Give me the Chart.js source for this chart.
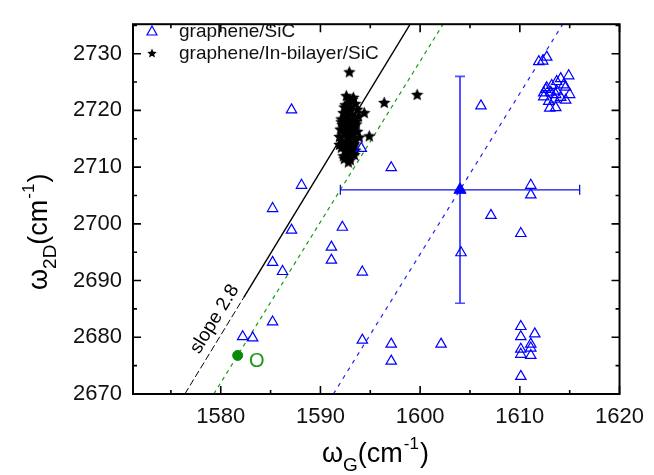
<!DOCTYPE html>
<html lang="en">
<head>
<meta charset="UTF-8">
<title>G vs 2D Raman peak positions</title>
<style>
  body { margin: 0; background: #fff; }
  #wrap { width: 654px; height: 475px; }
</style>
</head>
<body>
<div id="wrap"><canvas id="ramanChart" width="654" height="475"></canvas></div>
<script src="https://cdn.jsdelivr.net/npm/chart.js"></script>
<script>
// graphene/SiC, open triangles (omega_G, omega_2D)
const sicG = [1587.1, 1588.1, 1585.2, 1587.1, 1585.2, 1586.2, 1585.2, 1582.2, 1583.2,
  1594.1, 1597.1, 1592.2, 1591.1, 1591.1, 1594.2, 1604.1, 1594.2, 1597.1, 1597.1, 1602.1,
  1606.1, 1611.1, 1611.1, 1607.1, 1610.1,
  1610.1, 1610.1, 1611.5, 1611.1, 1611.1, 1610.1, 1610.1, 1611.1, 1610.1,
  1611.9, 1612.3, 1612.7,
  1614.9, 1614.1, 1613.7, 1614.4, 1613.2, 1612.7, 1612.6, 1613.7, 1614.6, 1612.4,
  1613.1, 1613.6, 1615.0, 1612.4, 1614.1, 1614.6, 1612.9, 1613.5, 1613.6, 1613.0];
const sic2D = [2720.1, 2706.8, 2702.7, 2698.9, 2693.2, 2691.6, 2682.7, 2680.1, 2679.9,
  2713.3, 2709.9, 2699.4, 2695.9, 2693.6, 2691.5, 2694.9, 2679.5, 2678.8, 2675.8, 2678.8,
  2720.8, 2706.8, 2705.1, 2701.5, 2698.3,
  2681.9, 2680.1, 2680.6, 2678.8, 2678.1, 2677.9, 2677.0, 2676.8, 2673.1,
  2728.6, 2728.7, 2729.4,
  2726.1, 2725.6, 2725.1, 2724.5, 2724.4, 2724.0, 2723.7, 2723.4, 2724.1, 2723.1,
  2723.2, 2722.8, 2722.8, 2722.4, 2722.3, 2721.8, 2721.6, 2722.0, 2720.5, 2720.4];

// graphene/In-bilayer/SiC, stars
const inG = [1592.9, 1596.4, 1599.7, 1594.9, 1594.4, 1592.1,
  1592.6, 1593.3, 1592.9, 1593.5, 1592.5, 1593.0, 1593.7, 1592.7, 1592.3, 1593.1,
  1593.8, 1592.6, 1593.3, 1592.1, 1592.9, 1593.6, 1592.5, 1593.1, 1592.0, 1592.8,
  1593.7, 1592.4, 1593.2, 1591.9, 1592.7, 1593.5, 1592.2, 1593.0, 1592.6, 1593.3,
  1592.1, 1592.9, 1592.5, 1593.1, 1592.7, 1592.4, 1593.0, 1592.8, 1593.9, 1591.9,
  1593.5, 1592.9, 1592.4, 1593.2, 1592.7, 1593.0, 1592.6, 1593.3, 1592.8, 1593.4,
  1592.3, 1593.6, 1592.2, 1593.4];
const in2D = [2726.8, 2721.4, 2722.8, 2715.5, 2719.6, 2718.5,
  2722.6, 2722.3, 2721.8, 2721.2, 2721.0, 2720.6, 2720.2, 2720.0, 2719.6, 2719.4,
  2719.0, 2718.8, 2718.5, 2718.0, 2717.9, 2717.6, 2717.3, 2717.0, 2716.7, 2716.5,
  2716.3, 2716.0, 2715.8, 2715.4, 2715.2, 2714.9, 2714.6, 2714.4, 2714.0, 2713.7,
  2713.5, 2713.2, 2712.8, 2712.5, 2712.0, 2711.5, 2711.3, 2710.9, 2715.3, 2714.0,
  2713.0, 2719.9, 2720.6, 2721.9, 2719.2, 2716.0, 2716.9, 2716.9, 2718.3, 2714.1,
  2712.0, 2718.1, 2717.5, 2712.2];

// mean of graphene/SiC with spread
const meanG = 1604, mean2D = 2706, errG = 12, err2D = 20;

// reference point O (green dot)
const pointOG = [1581.7], pointO2D = [2676.8];

// slope-2.8 lines: [G, 2D] end points
const blackSolid = [[1582.3, 2687.0], [1599.0, 2735.2]];
const blackDash = [[1576.4, 2670.0], [1582.3, 2687.0]];
const greenLine = [[1579.3, 2670.0], [1602.3, 2735.2]];
const blueLine = [[1591.3, 2670.0], [1614.3, 2735.2]];

const xTicks = [1575, 1580, 1585, 1590, 1595, 1600, 1605, 1610, 1615, 1620];
const yTicks = [2670, 2675, 2680, 2685, 2690, 2695, 2700, 2705, 2710, 2715, 2720, 2725, 2730, 2735];

const FONT = "'Liberation Sans', Arial, sans-serif";

function pts(xs, ys) {
    return xs.map((v, i) => ({x: v, y: ys[i]}));
}
function seg(p) {
    return p.map(q => ({x: q[0], y: q[1]}));
}

function makeStar(size) {
    const c = document.createElement('canvas');
    c.width = c.height = size;
    const g = c.getContext('2d');
    const R = size / 2, r = R * 0.46;
    g.beginPath();
    for (let i = 0; i < 10; i++) {
        const a = -Math.PI / 2 + i * Math.PI / 5;
        const rr = i % 2 ? r : R;
        g.lineTo(R + rr * Math.cos(a), R + 0.5 + rr * Math.sin(a));
    }
    g.closePath();
    g.fillStyle = '#000';
    g.fill();
    return c;
}
const starImg = makeStar(13);
const starSmall = makeStar(10);

// frame box with inward ticks on all four sides
const frameTicks = {
    id: 'frameTicks',
    afterDatasetsDraw(chart) {
        const {ctx, chartArea: a, scales: {x, y}} = chart;
        ctx.save();
        ctx.strokeStyle = '#000';
        ctx.lineWidth = 1.6;
        ctx.beginPath();
        xTicks.forEach(v => {
            const px = x.getPixelForValue(v);
            const len = v % 10 === 0 ? 8 : 4;
            ctx.moveTo(px, a.bottom); ctx.lineTo(px, a.bottom - len);
            ctx.moveTo(px, a.top); ctx.lineTo(px, a.top + len);
        });
        yTicks.forEach(v => {
            const py = y.getPixelForValue(v);
            const len = v % 10 === 0 ? 8 : 4;
            ctx.moveTo(a.left, py); ctx.lineTo(a.left + len, py);
            ctx.moveTo(a.right, py); ctx.lineTo(a.right - len, py);
        });
        ctx.stroke();
        ctx.lineWidth = 2;
        ctx.strokeRect(a.left, a.top, a.right - a.left, a.bottom - a.top);
        ctx.restore();
    }
};

// legend, axis titles and notes
const labels = {
    id: 'labels',
    afterDraw(chart) {
        const {ctx, chartArea: a, scales: {x, y}} = chart;
        ctx.save();

        // legend inside plot
        ctx.strokeStyle = '#0000ff';
        ctx.lineWidth = 1.2;
        ctx.beginPath();
        ctx.moveTo(152, 26); ctx.lineTo(157, 35); ctx.lineTo(147, 35); ctx.closePath();
        ctx.stroke();
        ctx.drawImage(starSmall, 147, 48);
        ctx.fillStyle = '#111';
        ctx.font = '19px ' + FONT;
        ctx.textBaseline = 'middle';
        ctx.fillText(chart.data.datasets[0].label, 179, 32);
        ctx.fillText(chart.data.datasets[1].label, 179, 54);

        // slope note along black line
        const x0 = x.getPixelForValue(blackDash[0][0]), y0 = y.getPixelForValue(blackDash[0][1]);
        const x1 = x.getPixelForValue(blackSolid[1][0]), y1 = y.getPixelForValue(blackSolid[1][1]);
        const ang = Math.atan2(y1 - y0, x1 - x0);
        const cx = x.getPixelForValue(1579.4), cy = y.getPixelForValue(2683.2);
        ctx.save();
        ctx.translate(cx, cy);
        ctx.rotate(ang);
        ctx.font = '19px ' + FONT;
        ctx.textAlign = 'center';
        ctx.textBaseline = 'middle';
        ctx.fillStyle = '#000';
        ctx.fillText('slope 2.8', 0, 0);
        ctx.restore();

        // O label
        ctx.fillStyle = '#1a9a1a';
        ctx.font = '20px ' + FONT;
        ctx.textAlign = 'center';
        ctx.fillText('O', x.getPixelForValue(pointOG[0]) + 19, y.getPixelForValue(pointO2D[0]) + 6);

        // x axis title
        ctx.fillStyle = '#000';
        ctx.textAlign = 'left';
        ctx.textBaseline = 'alphabetic';
        let px = 322;
        const base = 462;
        ctx.font = '27px ' + FONT;
        ctx.fillText('\u03c9', px, base); px += ctx.measureText('\u03c9').width;
        ctx.font = '19px ' + FONT;
        ctx.fillText('G', px, base + 9); px += ctx.measureText('G').width;
        ctx.font = '27px ' + FONT;
        ctx.fillText('(cm', px, base); px += ctx.measureText('(cm').width;
        ctx.font = '17px ' + FONT;
        ctx.fillText('-1', px + 1, base - 13); px += ctx.measureText('-1').width + 2;
        ctx.font = '27px ' + FONT;
        ctx.fillText(')', px, base);

        // y axis title
        ctx.save();
        ctx.translate(47, 290);
        ctx.rotate(-Math.PI / 2);
        let p = 0;
        ctx.font = '27px ' + FONT;
        ctx.fillText('\u03c9', p, 0); p += ctx.measureText('\u03c9').width;
        ctx.font = '19px ' + FONT;
        ctx.fillText('2D', p, 9); p += ctx.measureText('2D').width;
        ctx.font = '27px ' + FONT;
        ctx.fillText('(cm', p, 0); p += ctx.measureText('(cm').width;
        ctx.font = '17px ' + FONT;
        ctx.fillText('-1', p + 1, -13); p += ctx.measureText('-1').width + 2;
        ctx.font = '27px ' + FONT;
        ctx.fillText(')', p, 0);
        ctx.restore();

        ctx.restore();
    }
};

const ctx = document.getElementById('ramanChart').getContext('2d');
const chart = new Chart(ctx, {
    type: 'scatter',
    data: {
        datasets: [
            {
                label: 'graphene/SiC',
                data: pts(sicG, sic2D),
                pointStyle: 'triangle',
                pointRadius: 6,
                borderColor: '#0000ff',
                backgroundColor: 'rgba(0,0,0,0)',
                borderWidth: 1.2
            },
            {
                label: 'graphene/In-bilayer/SiC',
                data: pts(inG, in2D),
                pointStyle: starImg,
                pointRadius: 6
            },
            {
                label: 'mean',
                data: [{x: meanG, y: mean2D}],
                pointStyle: 'triangle',
                pointRadius: 7,
                borderColor: '#0000ff',
                backgroundColor: '#0000ff',
                borderWidth: 1
            },
            {
                label: 'errG',
                data: [{x: meanG - errG, y: mean2D}, {x: meanG + errG, y: mean2D}],
                showLine: true,
                borderColor: '#1010e0',
                borderWidth: 1.3,
                pointStyle: 'line',
                rotation: 90,
                pointRadius: 5,
                pointBorderWidth: 1.3
            },
            {
                label: 'err2D',
                data: [{x: meanG, y: mean2D - err2D}, {x: meanG, y: mean2D + err2D}],
                showLine: true,
                borderColor: 'rgba(50,50,255,0.85)',
                borderWidth: 2,
                pointStyle: 'line',
                pointRadius: 5,
                pointBorderWidth: 1.6
            },
            {
                label: 'O',
                data: pts(pointOG, pointO2D),
                pointStyle: 'circle',
                pointRadius: 5,
                backgroundColor: '#0a8a0a',
                borderColor: '#0a8a0a'
            },
            {
                label: 'slope',
                data: seg(blackSolid),
                showLine: true,
                borderColor: '#000',
                borderWidth: 1.4,
                pointRadius: 0
            },
            {
                label: 'slope ext',
                data: seg(blackDash),
                showLine: true,
                borderColor: '#000',
                borderWidth: 1,
                borderDash: [7, 3],
                pointRadius: 0
            },
            {
                label: 'O line',
                data: seg(greenLine),
                showLine: true,
                borderColor: '#1a9a1a',
                borderWidth: 1.2,
                borderDash: [4, 4],
                pointRadius: 0
            },
            {
                label: 'mean line',
                data: seg(blueLine),
                showLine: true,
                borderColor: '#2020ff',
                borderWidth: 1.2,
                borderDash: [4, 5],
                pointRadius: 0
            }
        ]
    },
    options: {
        responsive: false,
        animation: false,
        layout: { padding: { top: 15, right: 29, left: 0, bottom: 0 } },
        plugins: {
            legend: { display: false },
            tooltip: { enabled: false }
        },
        scales: {
            x: {
                type: 'linear',
                min: 1571.2,
                max: 1620,
                afterFit: s => { s.height = 81; },
                grid: { display: false, drawTicks: false },
                border: { display: false },
                ticks: {
                    stepSize: 10,
                    includeBounds: false,
                    padding: 10,
                    color: '#111',
                    font: { family: FONT, size: 22 },
                    callback: v => String(v)
                }
            },
            y: {
                type: 'linear',
                min: 2670,
                max: 2735.2,
                afterFit: s => { s.width = 133; },
                grid: { display: false, drawTicks: false },
                border: { display: false },
                ticks: {
                    stepSize: 10,
                    includeBounds: false,
                    padding: 11,
                    color: '#111',
                    font: { family: FONT, size: 22 },
                    callback: v => String(v)
                }
            }
        }
    },
    plugins: [frameTicks, labels]
});
</script>
</body>
</html>
